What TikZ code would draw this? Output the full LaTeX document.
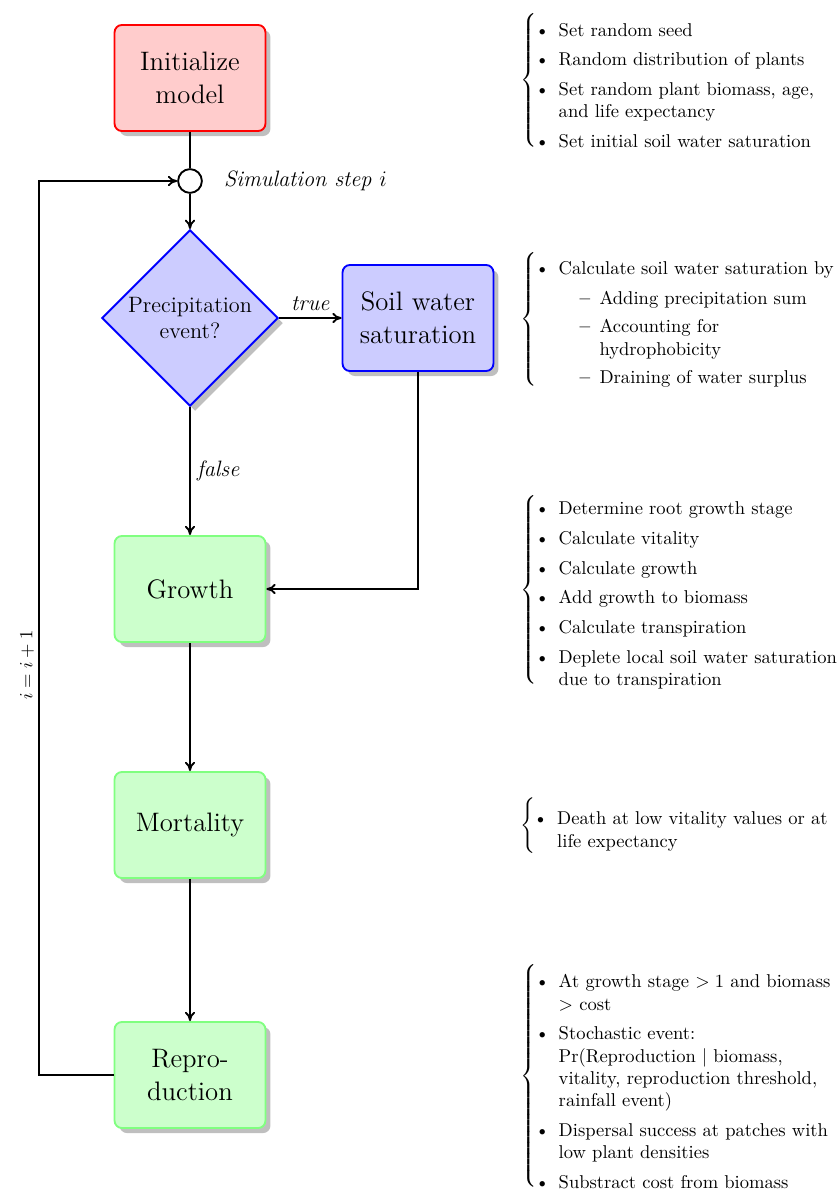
\documentclass[tikz,border=0pt]{standalone}
\usetikzlibrary{shapes.geometric,shadows,arrows.meta}
\setlength{\leftmargini}{11.5pt}
\makeatletter
\def\@listii{\leftmargin\leftmarginii \labelwidth\leftmarginii \advance\labelwidth-\labelsep
  \topsep 0pt \parsep 2pt \itemsep 1.5pt}
\makeatother
\newcommand{\steplist}[1]{$\left\{\begin{minipage}{162pt}\raggedright\vspace*{6pt}\begin{itemize}\setlength{\itemsep}{0pt}\setlength{\parsep}{3pt}#1\end{itemize}\end{minipage}\right.$}
\tikzset{
  block/.style={draw,line width=1pt,rounded corners,drop shadow={shadow xshift=2.7pt,shadow yshift=-2.7pt},
    text width=2.5cm,align=center,minimum width=2.86cm,minimum height=2.01cm,inner sep=2pt,font=\Large},
  initbox/.style={block,draw=red,fill=red!20},
  soilbox/.style={block,draw=blue,fill=blue!20},
  plantbox/.style={block,draw=green!50,fill=green!20},
  decision/.style={diamond,draw=blue,line width=1pt,fill=blue!20,drop shadow={shadow xshift=2.7pt,shadow yshift=-2.7pt},
    minimum size=3.34cm,inner sep=0pt,text width=2.5cm,align=center,font=\large},
  stepnode/.style={circle,draw,line width=1pt,fill=white,minimum size=0.45cm,inner sep=0pt},
  listnode/.style={anchor=west,inner sep=0pt}
}
\begin{document}
\begin{tikzpicture}[x=0.01895cm,y=-0.01895cm,>={Computer Modern Rightarrow[length=5pt,width=5.5pt]},line width=1pt]
	\useasboundingbox (0,0) rectangle (838,1190);
	% flow chart
	\node[initbox] (init) at (190,78) {Initialize model};
	\node[stepnode] (step) at (190,181) {};
	\node[anchor=west,font=\large] (steptext) at (217,181) {\textit{Simulation step $i$}};
	\node[decision] (precip) at (190,318) {Precipitation event?};
	\node[soilbox] (soil) at (418,318) {Soil water saturation};
	\node[plantbox] (growth) at (190,589) {Growth};
	\node[plantbox] (mort) at (190,825) {Mortality};
	\node[plantbox] (repro) at (190,1075) {Repro-\\duction};
	\coordinate (back) at (39,1075);
	\node[rotate=90] (incr) at (27,665) {$i=i+1$};
	\draw (init) -- (step);
	\draw[->] (step) -- (precip);
	\draw[->] (precip) -- node[above,font=\large]{\textit{true}} (soil);
	\draw[->] (precip) -- node[right,font=\large]{\textit{false}} (growth);
	\draw[->] (soil) |- (growth);
	\draw[->] (growth) -- (mort);
	\draw[->] (mort) -- (repro);
	\draw[->] (repro) -- (back) |- (step);
	% descriptions
	\node[listnode] (initlist) at (520,80) {\steplist{
		\item Set random seed
		\item Random distribution of plants
		\item Set random plant biomass, age, and life expectancy
		\item Set initial soil water saturation}};
	\node[listnode] (soillist) at (520,319) {\steplist{
		\item Calculate soil water saturation by
		\begin{itemize}
			\item Adding precipitation sum
			\item Accounting for hydrophobicity
			\item Draining of water surplus
		\end{itemize}}};
	\node[listnode] (growthlist) at (520,590) {\steplist{
		\item Determine root growth stage
		\item Calculate vitality
		\item Calculate growth
		\item Add growth to biomass
		\item Calculate transpiration
		\item Deplete local soil water saturation due to transpiration}};
	\node[listnode] (mortlist) at (520,826) {\steplist{
		\item Death at low vitality values or at life expectancy}};
	\node[listnode] (reprolist) at (520,1076) {\steplist{
		\item At growth stage $>1$ and biomass $>$ cost
		\item Stochastic event:\newline Pr(Reproduction $\mid$ biomass, vitality, reproduction threshold, rainfall event)
		\item Dispersal success at patches with low plant densities
		\item Substract cost from biomass}};
\end{tikzpicture}
\end{document}
